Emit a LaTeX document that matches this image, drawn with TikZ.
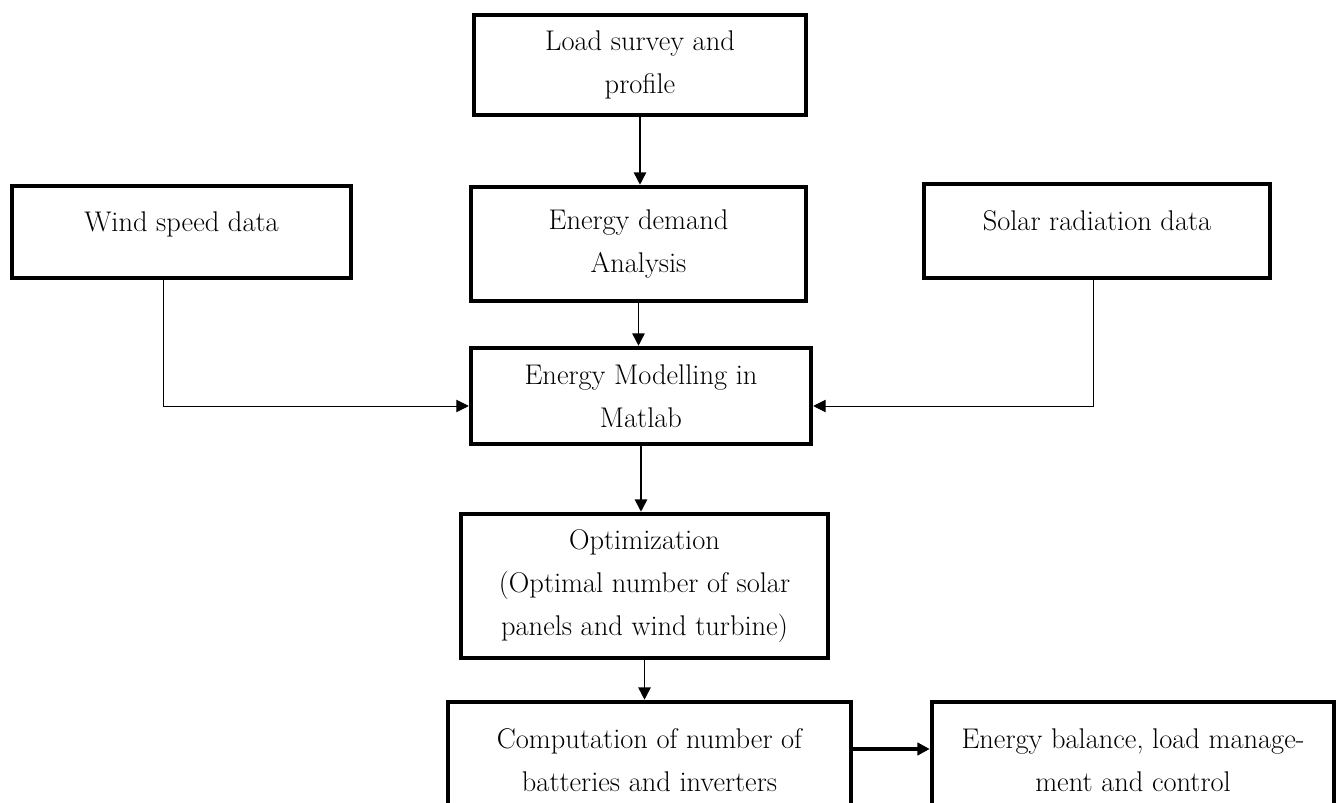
\documentclass[tikz,border=0pt]{standalone}
\usepackage{tikz}
\usetikzlibrary{arrows.meta, calc}

\begin{document}
\begin{tikzpicture}[x=0.02cm, y=-0.02cm,
    block/.style={draw, line width=2.6pt, fill=white, align=center, inner sep=0pt, font=\fontsize{16.2}{24.5}\selectfont},
    oneline/.style={text height=2ex, text depth=2ex},
    arrow/.style={-{Triangle[length=7pt,width=7pt]}, line width=0.9pt},
    feed/.style={-{Triangle[length=7pt,width=7pt]}, line width=0.5pt},
    bold arrow/.style={-{Triangle[length=7pt,width=7pt]}, line width=2pt}
]
\useasboundingbox (0,0) rectangle (1340,803);
\clip (0,0) rectangle (1340,803);

\node[block, minimum width=6.64cm, minimum height=2.00cm] (load) at (640,65) {Load survey and\\profile};
\node[block, oneline, minimum width=6.78cm, minimum height=1.84cm] (wind) at (181.5,232) {Wind speed data};
\node[block, minimum width=6.70cm, minimum height=2.28cm] (demand) at (638.5,244) {Energy demand\\Analysis};
\node[block, oneline, minimum width=6.92cm, minimum height=1.88cm] (solar) at (1097,231) {Solar radiation data};
\node[block, minimum width=6.80cm, minimum height=1.92cm] (model) at (641,396) {Energy Modelling in\\Matlab};
\node[block, minimum width=7.34cm, minimum height=2.88cm] (opt) at (644.5,586) {Optimization\\(Optimal number of solar\\panels and wind turbine)};
\node[block, minimum width=8.06cm, minimum height=2.32cm] (comp) at (649.5,760) {Computation of number of\\batteries and inverters};
\node[block, minimum width=8.04cm, minimum height=2.32cm] (bal) at (1133,760) {Energy balance, load manage-\\ment and control};

\draw[arrow] (load.south) -- (load.south |- demand.north);
\draw[arrow] (demand.south) -- (demand.south |- model.north);
\draw[arrow] (model.south) -- (model.south |- opt.north);
\draw[arrow] (opt.south) -- (opt.south |- comp.north);
\draw[feed] ([xshift=-0.37cm]wind.south) |- ([yshift=-0.2cm]model.west);
\draw[feed] ([xshift=-0.08cm]solar.south) |- ([yshift=-0.2cm]model.east);
\draw[bold arrow] ([yshift=0.22cm]comp.east) -- ([yshift=0.22cm]comp.east -| bal.west);
\end{tikzpicture}
\end{document}
